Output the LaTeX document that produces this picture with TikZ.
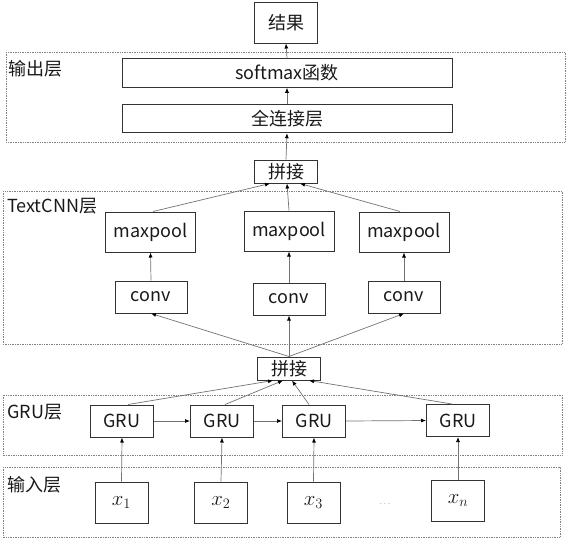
\documentclass[tikz,border=0pt]{standalone}
\usepackage{fontspec}
\usetikzlibrary{arrows.meta, positioning}
\newfontfamily\cjk{Noto Sans CJK SC}

\begin{document}
\begin{tikzpicture}[x=1pt, y=-1pt, >={Latex[length=5pt,width=4pt,color=black]},
  box/.style={draw=black!80, line width=1pt, inner sep=0pt, text=black!90,
    font=\cjk\fontsize{18}{20}\selectfont},
  wide/.style={box, minimum width=330pt, minimum height=28.5pt},
  catbox/.style={box, minimum width=63pt, minimum height=23pt},
  poolbox/.style={box, minimum width=90pt, minimum height=40pt},
  convbox/.style={box, minimum width=72pt, minimum height=32pt},
  grubox/.style={box, minimum width=63pt, minimum height=32pt},
  xbox/.style={box, minimum width=53pt, minimum height=41pt,
    font=\fontsize{20.74}{24}\selectfont},
  layer/.style={draw=black!50, densely dotted, line width=0.7pt},
  layername/.style={anchor=west, inner sep=0pt, text=black!90,
    font=\cjk\fontsize{18}{20}\selectfont},
  link/.style={->, draw=black!55, line width=0.7pt}]
  \useasboundingbox (0,0) rectangle (567,539);
  % layer frames
  \draw[layer] (6,52) rectangle (565,142);
  \draw[layer] (3,191) rectangle (562,344);
  \draw[layer] (3,395) rectangle (562,455);
  \draw[layer] (3,467) rectangle (560,537);
  \node[layername] (outname) at (8,69) {输出层};
  \node[layername] (cnnname) at (7,206) {TextCNN层};
  \node[layername] (gruname) at (7,412) {GRU层};
  \node[layername] (inname) at (7,485) {输入层};
  % output part
  \node[box, minimum width=63pt, minimum height=41pt] (res) at (286,22.5) {结果};
  \node[wide] (soft) at (287,73) {softmax函数};
  \node[wide] (fc) at (287,118.5) {全连接层};
  \node[catbox] (cattop) at (286,171.5) {拼接};
  % TextCNN part
  \node[poolbox] (pool1) at (150.5,232) {maxpool};
  \node[poolbox] (pool2) at (289,231) {maxpool};
  \node[poolbox] (pool3) at (404,232) {maxpool};
  \node[convbox] (conv1) at (151,297) {conv};
  \node[convbox] (conv2) at (289,299) {conv};
  \node[convbox] (conv3) at (404,297) {conv};
  \node[catbox] (catlow) at (289,368.5) {拼接};
  % GRU part
  \node[grubox] (gru1) at (122,421) {GRU};
  \node[grubox] (gru2) at (222,421) {GRU};
  \node[grubox] (gru3) at (314,421) {GRU};
  \node[grubox] (gru4) at (458,420.5) {GRU};
  % inputs
  \node[xbox] (in1) at (121.5,502.5) {$x_1$};
  \node[xbox] (in2) at (221,502.5) {$x_2$};
  \node[xbox] (in3) at (313.5,502.5) {$x_3$};
  \node[xbox] (inn) at (458,500.5) {$x_n$};
  \node[text=black!60, font=\fontsize{9}{10}\selectfont] (dots) at (385,504) {$\cdots$};
  % connectors
  \draw[link] (soft.north) -- (res.south);
  \draw[link] (fc.north) -- (soft.south);
  \draw[link] (cattop.north) -- (fc.south);
  \draw[link] ([xshift=2.5pt]pool1.north) -- ([xshift=-16pt]cattop.south);
  \draw[link] (pool2.north) -- ([xshift=1pt]cattop.south);
  \draw[link] ([xshift=-4pt]pool3.north) -- ([xshift=14pt]cattop.south);
  \draw[link] (conv1.north) -- (pool1.south);
  \draw[link] (conv2.north) -- (pool2.south);
  \draw[link] (conv3.north) -- (pool3.south);
  \draw[link] (catlow.north) -- (conv1.south);
  \draw[link] (catlow.north) -- (conv2.south);
  \draw[link] (catlow.north) -- (conv3.south);
  \draw[link] ([xshift=6pt]gru1.north) -- ([xshift=-16pt]catlow.south);
  \draw[link] ([xshift=3pt]gru2.north) -- ([xshift=-6pt]catlow.south);
  \draw[link] ([xshift=-5pt]gru3.north) -- ([xshift=3pt]catlow.south);
  \draw[link] ([xshift=-6pt]gru4.north) -- ([xshift=20pt]catlow.south);
  \draw[link] (gru1.east) -- (gru2.west);
  \draw[link] (gru2.east) -- (gru3.west);
  \draw[link] (gru3.east) -- (gru4.west);
  \draw[link] (in1.north) -- (gru1.south);
  \draw[link] (in2.north) -- (gru2.south);
  \draw[link] (in3.north) -- (gru3.south);
  \draw[link] (inn.north) -- (gru4.south);
\end{tikzpicture}
\end{document}
